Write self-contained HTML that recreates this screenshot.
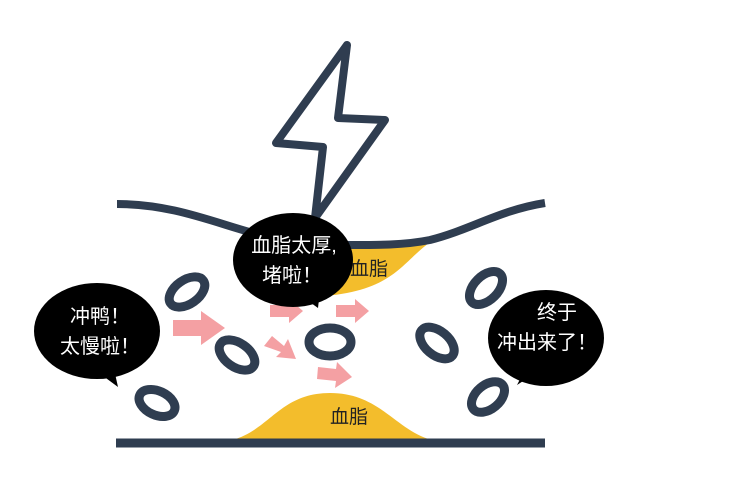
<!DOCTYPE html>
<html><head><meta charset="utf-8"><style>
html,body{margin:0;padding:0;background:#fff;}
svg{display:block;}
text{font-family:"Liberation Sans","Noto Sans CJK SC",sans-serif;}
</style></head><body>
<svg width="747" height="482" viewBox="0 0 747 482" xmlns="http://www.w3.org/2000/svg">
<rect width="747" height="482" fill="#fff"/>
<path d="M232,440 C270,430 280,393 330,393 C380,393 395,430 432,440 Z" fill="#f3bd2c"/>
<path d="M325,247 L432,241 C400,262 395,295 305,297 C318,285 325,265 325,247 Z" fill="#f3bd2c"/>
<text x="330" y="423" font-size="19" fill="#222">血脂</text>
<text x="350" y="275" font-size="19" fill="#222">血脂</text>
<path d="M117,204 C200,204 250,245 330,245 C370,245 400,246 430,240 C470,230 500,210 545,203" fill="none" stroke="#2f3d50" stroke-width="8"/>
<line x1="116" y1="443" x2="545" y2="443" stroke="#2f3d50" stroke-width="9"/>
<polygon points="347,45 276,143 323,147 315,218 385,120 338,118" fill="#fff" stroke="#2f3d50" stroke-width="8" stroke-linejoin="round"/>
<g fill="none" stroke="#2f3d50" stroke-width="9">
<ellipse cx="187" cy="292" rx="20" ry="12" transform="rotate(-35 187 292)"/>
<ellipse cx="237" cy="355" rx="20" ry="12" transform="rotate(35 237 355)"/>
<ellipse cx="157" cy="403" rx="19" ry="12" transform="rotate(25 157 403)"/>
<ellipse cx="330" cy="342" rx="21" ry="14"/>
<ellipse cx="437" cy="343" rx="20" ry="12" transform="rotate(40 437 343)"/>
<ellipse cx="486" cy="288" rx="20" ry="12" transform="rotate(-45 486 288)"/>
<ellipse cx="488" cy="397" rx="19" ry="12" transform="rotate(-40 488 397)"/>
</g>
<g fill="#f4a0a3">
<polygon points="173,320 201,320 201,311 225,328 201,345 201,336 173,336"/>
<polygon points="270,305 289,305 289,299 303,311 289,323 289,317 270,317"/>
<polygon points="336,305 355,305 355,299 369,311 355,323 355,317 336,317"/>
<polygon points="318,367 336,369 337,362 352,377 335,388 336,381 317,379"/>
<polygon points="264,346 272,336 284,346 288,339 296,359 276,357 281,352"/>
</g>
<g fill="#000">
<ellipse cx="97" cy="331" rx="63" ry="48"/>
<polygon points="95,370 118,387 112,360"/>
<ellipse cx="293" cy="260" rx="60" ry="47"/>
<polygon points="300,295 318,308 320,290"/>
<ellipse cx="546" cy="338" rx="58" ry="48"/>
<polygon points="540,370 517,385 530,360"/>
</g>
<g fill="#fff" font-size="20" text-anchor="middle">
<text x="100" y="323">冲鸭！</text>
<text x="100" y="353">太慢啦！</text>
<text x="294" y="252">血脂太厚,</text>
<text x="292" y="282">堵啦！</text>
<text x="557" y="319">终于</text>
<text x="547" y="349">冲出来了！</text>
</g>
</svg>
</body></html>
